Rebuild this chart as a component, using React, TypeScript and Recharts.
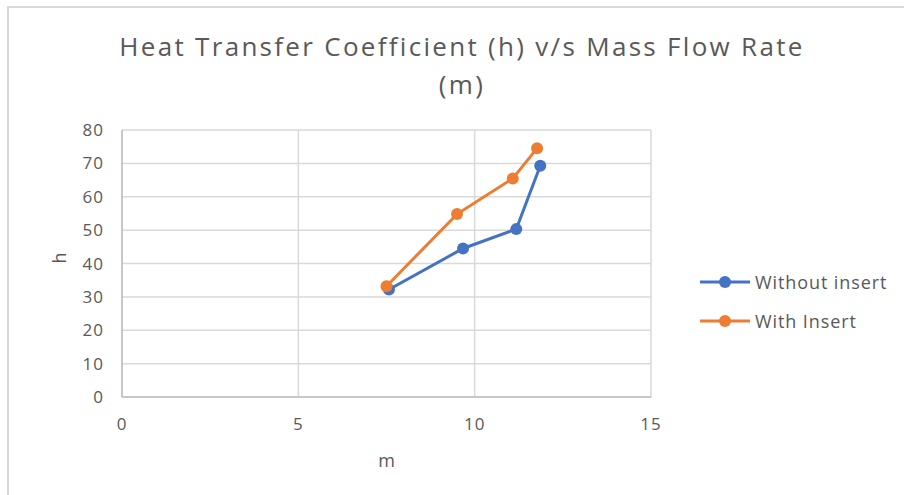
import { LineChart, Line, XAxis, YAxis, CartesianGrid } from 'recharts'

const withoutInsertM = [7.57, 9.67, 11.18, 11.86]
const withoutInsertH = [32.2, 44.5, 50.3, 69.3]
const withInsertM = [7.5, 9.5, 11.08, 11.77]
const withInsertH = [33.2, 54.8, 65.5, 74.5]
const xTicks = [0, 5, 10, 15]
const yTicks = [0, 10, 20, 30, 40, 50, 60, 70, 80]

const seriesWithout = withoutInsertM.map((m, i) => ({ m, h: withoutInsertH[i] }))
const seriesWith = withInsertM.map((m, i) => ({ m, h: withInsertH[i] }))

const FONT = '"Open Sans", sans-serif'
const GREY = '#595959'

const LEGEND = [
  { name: 'Without insert', color: '#4472C4' },
  { name: 'With Insert', color: '#ED7D31' },
]

export default function App() {
  return (
    <div style={{ position: 'absolute', left: 0, top: 0, width: 904, height: 495, background: '#fff', fontFamily: FONT }}>
      <div style={{ position: 'absolute', left: 7, top: 6, width: 897, height: 489, borderLeft: '2px solid #d9d9d9', borderTop: '2px solid #d9d9d9' }} />
      <div style={{ position: 'absolute', left: 0, top: 27, width: 924, textAlign: 'center', fontSize: 26, lineHeight: '38px', color: GREY, letterSpacing: 2.3 }}>
        Heat Transfer Coefficient (h) v/s Mass Flow Rate
        <br />
        (m)
      </div>
      <LineChart
        width={904}
        height={495}
        margin={{ top: 130, right: 253, bottom: 68, left: 62 }}
        style={{ position: 'absolute', left: 0, top: 0, fontFamily: FONT }}
      >
        <CartesianGrid stroke="#d9d9d9" strokeWidth={1.5} />
        <XAxis
          type="number"
          dataKey="m"
          domain={[0, 15]}
          ticks={xTicks}
          tickSize={0}
          tickMargin={21}
          height={30}
          stroke="#bfbfbf"
          strokeWidth={1.5}
          tick={{ fill: GREY, fontSize: 17, letterSpacing: 1 }}
          label={{ value: 'm', position: 'insideBottom', offset: -40, fill: GREY, fontSize: 18 }}
        />
        <YAxis
          type="number"
          dataKey="h"
          domain={[0, 80]}
          ticks={yTicks}
          tickSize={0}
          tickMargin={18}
          width={60}
          stroke="#bfbfbf"
          strokeWidth={1.5}
          tick={{ fill: GREY, fontSize: 17, letterSpacing: 1 }}
          label={{ value: 'h', angle: -90, position: 'insideLeft', offset: -2, fill: GREY, fontSize: 18 }}
        />
        <Line
          data={seriesWithout}
          dataKey="h"
          name="Without insert"
          stroke="#4472C4"
          strokeWidth={3}
          dot={{ r: 6, fill: '#4472C4', stroke: '#4472C4', strokeWidth: 0 }}
          activeDot={false}
          isAnimationActive={false}
        />
        <Line
          data={seriesWith}
          dataKey="h"
          name="With Insert"
          stroke="#ED7D31"
          strokeWidth={3}
          dot={{ r: 6, fill: '#ED7D31', stroke: '#ED7D31', strokeWidth: 0 }}
          activeDot={false}
          isAnimationActive={false}
        />
      </LineChart>
      <div style={{ position: 'absolute', left: 698, top: 262, fontSize: 18, letterSpacing: 0.9 }}>
        {LEGEND.map((s) => (
          <div key={s.name} style={{ display: 'flex', alignItems: 'center', height: 39 }}>
            <svg width={54} height={14}>
              <line x1={2} y1={7} x2={52} y2={7} stroke={s.color} strokeWidth={3} />
              <circle cx={27} cy={7} r={6} fill={s.color} />
            </svg>
            <span style={{ color: GREY, marginLeft: 3 }}>{s.name}</span>
          </div>
        ))}
      </div>
    </div>
  )
}
